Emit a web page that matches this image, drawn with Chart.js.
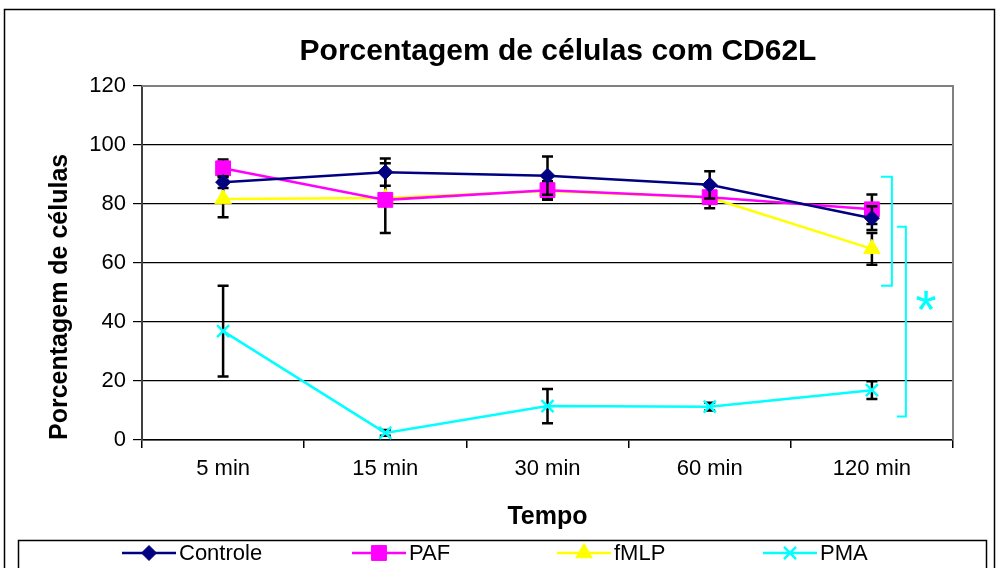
<!DOCTYPE html>
<html>
<head>
<meta charset="utf-8">
<script src="https://cdn.jsdelivr.net/npm/chart.js@4/dist/chart.umd.min.js"></script>
<style>
  html, body { margin: 0; padding: 0; background: #fff; }
  #wrap { width: 998px; height: 568px; position: relative; }
</style>
</head>
<body>
<div id="wrap"><canvas id="chart"></canvas></div>
<script>
// ---- data ----
const categories = ["5 min", "15 min", "30 min", "60 min", "120 min"];
const yTicks = [0, 20, 40, 60, 80, 100, 120];

const controle = [87.4, 90.8, 89.6, 86.5, 75.2];
const paf      = [92.1, 81.4, 84.7, 82.3, 78.2];
const fmlp     = [81.7, 82.0, 84.4, 82.2, 64.8];
const pma      = [36.9, 2.4, 11.5, 11.3, 16.9];

// +/- error per point
const controleErr = [2.0, 4.6, 6.5, 4.6, 4.0];
const pafErr      = [3.0, 2.0, 3.0, 3.7, 5.0];
const fmlpErr     = [6.2, 11.8, 3.0, 2.0, 5.4];
const pmaErr      = [15.4, 1.0, 5.8, 1.3, 3.0];

// significance brackets (value range on the y axis)
const bracketAll = [89.2, 52.3];
const bracketPma = [72.3, 8.0];

const FONT = "'Liberation Sans', Arial, sans-serif";
const $ = (s) => document.querySelector(s);

function ds(label, data, errors, color, style, radius) {
  return {
    label, data, errors,
    borderColor: color, backgroundColor: color,
    borderWidth: 2.5, tension: 0,
    pointStyle: style, pointRadius: radius, pointHoverRadius: radius,
    pointBackgroundColor: color, pointBorderColor: color,
    pointBorderWidth: style === "crossRot" ? 2.5 : 1,
  };
}

// error bars, drawn under each series' own line/markers
const errorBars = {
  id: "errorBars",
  beforeDatasetDraw(chart, args) {
    const ds = chart.data.datasets[args.index];
    if (!ds.errors) return;
    const { ctx } = chart, y = chart.scales.y;
    ctx.save();
    ctx.strokeStyle = "#000"; ctx.lineWidth = 2.5;
    args.meta.data.forEach((pt, j) => {
      const e = ds.errors[j], v = ds.data[j];
      const y1 = y.getPixelForValue(v + e), y2 = y.getPixelForValue(v - e);
      ctx.beginPath();
      ctx.moveTo(pt.x, y1); ctx.lineTo(pt.x, y2);
      ctx.moveTo(pt.x - 5.5, y1); ctx.lineTo(pt.x + 5.5, y1);
      ctx.moveTo(pt.x - 5.5, y2); ctx.lineTo(pt.x + 5.5, y2);
      ctx.stroke();
    });
    ctx.restore();
  },
};

// frame, title, plot border, brackets, legend
const decor = {
  id: "decor",
  beforeDraw(chart) {
    const { ctx } = chart;
    ctx.save();
    ctx.fillStyle = "#fff"; ctx.fillRect(0, 0, chart.width, chart.height);
    ctx.strokeStyle = "#000"; ctx.lineWidth = 1.5;
    ctx.strokeRect(4.5, 9.5, 990, 600);
    ctx.fillStyle = "#000";
    ctx.font = "bold 30px " + FONT;
    ctx.textAlign = "center"; ctx.textBaseline = "alphabetic";
    ctx.fillText("Porcentagem de células com CD62L", 558, 60);
    ctx.restore();
  },
  beforeDatasetsDraw(chart) {
    const { ctx, chartArea: a } = chart;
    ctx.save();
    ctx.strokeStyle = "#808080"; ctx.lineWidth = 2;
    ctx.beginPath();
    ctx.moveTo(a.left, a.top); ctx.lineTo(a.right, a.top); ctx.lineTo(a.right, a.bottom);
    ctx.stroke();
    ctx.restore();
  },
  afterDatasetsDraw(chart) {
    const { ctx } = chart, y = chart.scales.y, x = chart.scales.x;
    const cx = x.getPixelForValue(categories.length - 1);
    ctx.save();
    ctx.strokeStyle = "#00FFFF"; ctx.lineWidth = 2;
    const bracket = (range, vx, arm) => {
      const t = y.getPixelForValue(range[0]), b = y.getPixelForValue(range[1]);
      ctx.beginPath();
      ctx.moveTo(vx - arm, t); ctx.lineTo(vx, t); ctx.lineTo(vx, b); ctx.lineTo(vx - arm, b);
      ctx.stroke();
    };
    bracket(bracketAll, cx + 20, 11);
    bracket(bracketPma, cx + 34, 9);
    ctx.fillStyle = "#00FFFF";
    ctx.font = "54px " + FONT;
    ctx.textAlign = "center"; ctx.textBaseline = "middle";
    ctx.fillText("*", cx + 54, y.getPixelForValue(43));
    ctx.restore();
  },
  afterDraw(chart) {
    const { ctx } = chart;
    ctx.save();
    ctx.strokeStyle = "#000"; ctx.lineWidth = 1.5;
    ctx.strokeRect(18.5, 540.5, 968, 60);
    const starts = [122, 352, 557, 763], ly = 553;
    chart.data.datasets.forEach((d, i) => {
      const x0 = starts[i];
      ctx.strokeStyle = d.borderColor; ctx.lineWidth = 2.5;
      ctx.beginPath(); ctx.moveTo(x0, ly); ctx.lineTo(x0 + 54, ly); ctx.stroke();
      ctx.fillStyle = d.pointBackgroundColor; ctx.strokeStyle = d.pointBorderColor;
      ctx.lineWidth = d.pointBorderWidth;
      Chart.helpers.drawPoint(ctx, { pointStyle: d.pointStyle, radius: d.pointRadius, borderWidth: d.pointBorderWidth, rotation: 0 }, x0 + 27, ly);
      ctx.fillStyle = "#000";
      ctx.font = "22px " + FONT;
      ctx.textAlign = "left"; ctx.textBaseline = "middle";
      ctx.fillText(d.label, x0 + 57, ly + 1);
    });
    ctx.restore();
  },
};

new Chart($("#chart"), {
  type: "line",
  data: {
    labels: categories,
    datasets: [
      ds("Controle", controle, controleErr, "#000080", "rectRot", 7.5),
      ds("PAF", paf, pafErr, "#FF00FF", "rect", 10.5),
      ds("fMLP", fmlp, fmlpErr, "#FFFF00", "triangle", 9.5),
      ds("PMA", pma, pmaErr, "#00FFFF", "crossRot", 8.5),
    ],
  },
  options: {
    responsive: true, maintainAspectRatio: false, animation: false,
    layout: { padding: { top: 86, right: 45, left: 0, bottom: 0 } },
    plugins: { legend: { display: false }, title: { display: false }, tooltip: { enabled: false } },
    scales: {
      x: {
        type: "category", offset: true,
        grid: { offset: true, drawOnChartArea: false, drawTicks: true, tickLength: 8, color: "#000", lineWidth: 1.5 },
        border: { color: "#000", width: 1.5 },
        ticks: { color: "#000", font: { family: FONT, size: 22 }, padding: 8, maxRotation: 0, autoSkip: false },
        title: { display: true, text: "Tempo", color: "#000", font: { family: FONT, size: 25, weight: "bold" }, padding: { top: 0, bottom: 36 } },
        afterFit: (s) => { s.height = 128; },
      },
      y: {
        min: 0, max: 120,
        afterBuildTicks: (s) => { s.ticks = yTicks.map((v) => ({ value: v })); },
        grid: {
          color: (c) => (c.tick && c.tick.value === 120 ? "#808080" : "#000"),
          lineWidth: 1.2, drawTicks: true, tickLength: 9, tickColor: "#000",
        },
        border: { color: "#404040", width: 2 },
        ticks: { color: "#000", font: { family: FONT, size: 22 }, padding: 7 },
        title: { display: true, text: "Porcentagem de células", color: "#000", align: "start", font: { family: FONT, size: 25, weight: "bold" }, padding: { top: 45, bottom: 0 } },
        afterFit: (s) => { s.width = 142; },
      },
    },
  },
  plugins: [errorBars, decor],
});
</script>
</body>
</html>
